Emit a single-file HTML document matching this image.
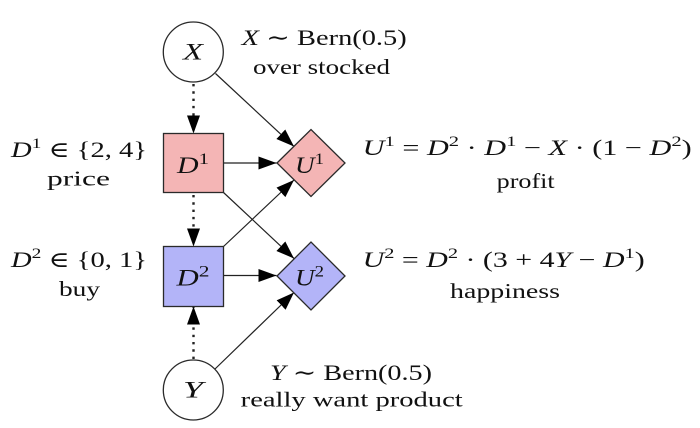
<!DOCTYPE html>
<html>
<head>
<meta charset="utf-8">
<style>
  html, body { margin: 0; padding: 0; background: #ffffff; }
  svg { display: block; }
  text { font-family: "Liberation Serif", "DejaVu Serif", serif; fill: #111; }
  .it { font-style: italic; }
</style>
</head>
<body>
<svg width="700" height="428" viewBox="0 0 700 428" xmlns="http://www.w3.org/2000/svg">
  <defs>
    <marker id="ah" markerUnits="userSpaceOnUse" markerWidth="19" markerHeight="14" refX="18" refY="6.5" orient="auto">
      <path d="M0,0 L18,6.5 L0,13 Z" fill="#000"/>
    </marker>
  </defs>

  <!-- Edges -->
  <g stroke="#222" stroke-width="1.2" fill="none">
    <line x1="193.5" y1="84" x2="193.5" y2="133.5" stroke-width="2.4" stroke-dasharray="2.4 4.9" marker-end="url(#ah)"/>
    <line x1="193.5" y1="195" x2="193.5" y2="246.5" stroke-width="2.4" stroke-dasharray="2.4 4.9" marker-end="url(#ah)"/>
    <line x1="193.5" y1="359" x2="193.5" y2="306.5" stroke-width="2.4" stroke-dasharray="2.4 4.9" marker-end="url(#ah)"/>
    <line x1="223.5" y1="163" x2="276.5" y2="163" marker-end="url(#ah)"/>
    <line x1="223.5" y1="275.5" x2="276.5" y2="275.5" marker-end="url(#ah)"/>
    <line x1="215.5" y1="73.5" x2="294" y2="146.5" marker-end="url(#ah)"/>
    <line x1="223.5" y1="192.5" x2="294" y2="258.5" marker-end="url(#ah)"/>
    <line x1="223.5" y1="246.5" x2="294" y2="180" marker-end="url(#ah)"/>
    <line x1="215" y1="369" x2="294" y2="292.5" marker-end="url(#ah)"/>
  </g>

  <!-- Nodes -->
  <g stroke="#2a2a2a" stroke-width="1.3">
    <circle cx="193.3" cy="52" r="30" fill="#fff"/>
    <circle cx="193.3" cy="390" r="30" fill="#fff"/>
    <rect x="163.5" y="133.5" width="60" height="59" fill="#F4B5B5"/>
    <rect x="163.5" y="246.5" width="60" height="60" fill="#B3B4F8"/>
    <polygon points="277,163 311,129.5 345,163 311,196.5" fill="#F4B5B5"/>
    <polygon points="277,276 311,242 345,276 311,310" fill="#B3B4F8"/>
  </g>

  <!-- Node labels -->
  <text x="193" y="59.5" font-size="23" text-anchor="middle" class="it" textLength="20" lengthAdjust="spacingAndGlyphs">X</text>
  <text x="193" y="397.5" font-size="23" text-anchor="middle" class="it" textLength="20" lengthAdjust="spacingAndGlyphs">Y</text>
  <text x="193" y="173" font-size="23" text-anchor="middle" textLength="32" lengthAdjust="spacingAndGlyphs"><tspan class="it">D</tspan><tspan font-size="16" dy="-9">1</tspan></text>
  <text x="309.5" y="173" font-size="23" text-anchor="middle" textLength="29" lengthAdjust="spacingAndGlyphs"><tspan class="it">U</tspan><tspan font-size="16" dy="-9">1</tspan></text>
  <text x="193" y="285.5" font-size="23" text-anchor="middle" textLength="33" lengthAdjust="spacingAndGlyphs"><tspan class="it">D</tspan><tspan font-size="16" dy="-9">2</tspan></text>
  <text x="309.5" y="285.5" font-size="23" text-anchor="middle" textLength="29" lengthAdjust="spacingAndGlyphs"><tspan class="it">U</tspan><tspan font-size="16" dy="-9">2</tspan></text>

  <!-- X annotation -->
  <text x="241.7" y="45" font-size="22" textLength="165" lengthAdjust="spacingAndGlyphs"><tspan class="it">X</tspan> ∼ Bern(0.5)</text>
  <text x="253" y="74" font-size="21" textLength="137" lengthAdjust="spacingAndGlyphs">over stocked</text>

  <!-- D1 annotation -->
  <text x="11" y="157" font-size="22" textLength="136" lengthAdjust="spacingAndGlyphs"><tspan class="it">D</tspan><tspan font-size="15" dy="-9">1</tspan><tspan dy="9"> ∈ {2, 4}</tspan></text>
  <text x="47" y="185.5" font-size="21" textLength="63" lengthAdjust="spacingAndGlyphs">price</text>

  <!-- D2 annotation -->
  <text x="11" y="267" font-size="22" textLength="136" lengthAdjust="spacingAndGlyphs"><tspan class="it">D</tspan><tspan font-size="15" dy="-9">2</tspan><tspan dy="9"> ∈ {0, 1}</tspan></text>
  <text x="59" y="296" font-size="21" textLength="41" lengthAdjust="spacingAndGlyphs">buy</text>

  <!-- U1 annotation -->
  <text x="362.7" y="155" font-size="22" textLength="329" lengthAdjust="spacingAndGlyphs"><tspan class="it">U</tspan><tspan font-size="15" dy="-9">1</tspan><tspan dy="9"> = </tspan><tspan class="it">D</tspan><tspan font-size="15" dy="-9">2</tspan><tspan dy="9"> · </tspan><tspan class="it">D</tspan><tspan font-size="15" dy="-9">1</tspan><tspan dy="9"> − </tspan><tspan class="it">X</tspan><tspan> · (1 − </tspan><tspan class="it">D</tspan><tspan font-size="15" dy="-9">2</tspan><tspan dy="9">)</tspan></text>
  <text x="496.7" y="188" font-size="21" textLength="58" lengthAdjust="spacingAndGlyphs">profit</text>

  <!-- U2 annotation -->
  <text x="362.7" y="267" font-size="22" textLength="282" lengthAdjust="spacingAndGlyphs"><tspan class="it">U</tspan><tspan font-size="15" dy="-9">2</tspan><tspan dy="9"> = </tspan><tspan class="it">D</tspan><tspan font-size="15" dy="-9">2</tspan><tspan dy="9"> · (3 + 4</tspan><tspan class="it">Y</tspan><tspan> − </tspan><tspan class="it">D</tspan><tspan font-size="15" dy="-9">1</tspan><tspan dy="9">)</tspan></text>
  <text x="450" y="298" font-size="21" textLength="110" lengthAdjust="spacingAndGlyphs">happiness</text>

  <!-- Y annotation -->
  <text x="270" y="380" font-size="22" textLength="162" lengthAdjust="spacingAndGlyphs"><tspan class="it">Y</tspan> ∼ Bern(0.5)</text>
  <text x="240.7" y="406.5" font-size="21" textLength="222" lengthAdjust="spacingAndGlyphs">really want product</text>
</svg>
</body>
</html>
